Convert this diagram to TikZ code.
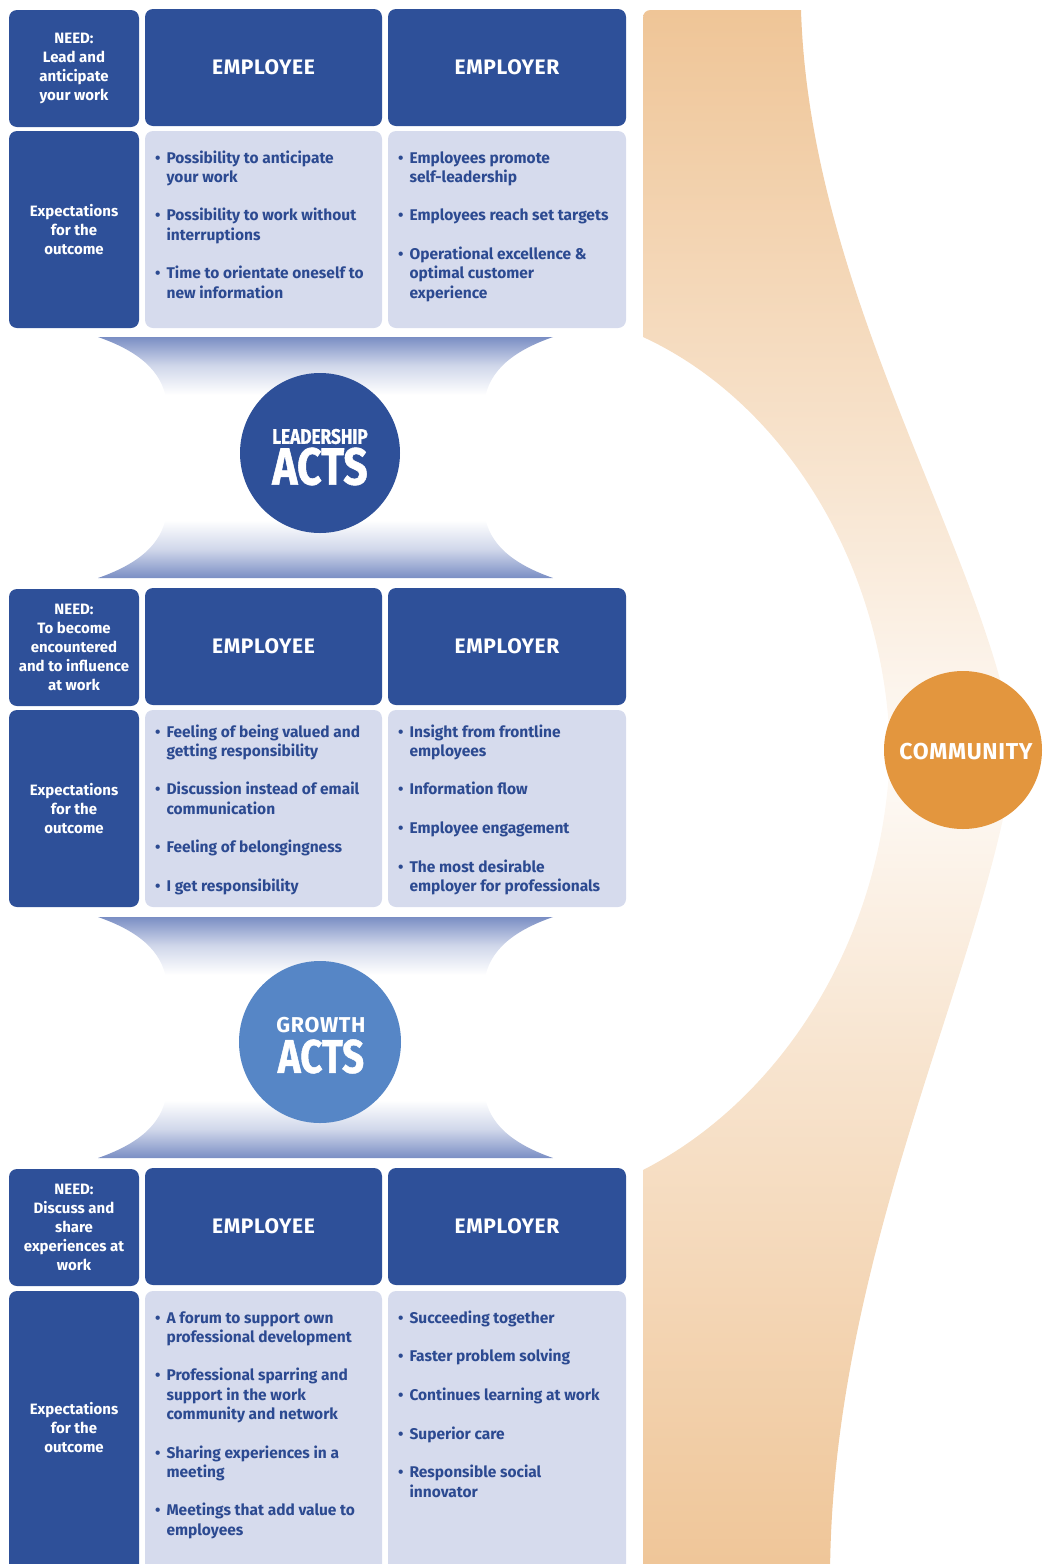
\documentclass[tikz,border=0pt]{standalone}
\usepackage{fontspec}
\setmainfont{Fira Sans}
\newfontfamily\narrowfont{Fira Sans}[FakeStretch=0.82,FakeBold=1]
\newfontfamily\spacedfont{Fira Sans}[LetterSpace=3]
\usetikzlibrary{shapes.geometric}

\definecolor{dblue}{RGB}{46,80,153}
\definecolor{lbox}{RGB}{214,219,237}
\definecolor{tblue}{RGB}{44,74,145}
\definecolor{gblue}{RGB}{86,134,198}
\definecolor{hgblue}{RGB}{122,142,196}
\colorlet{hgsoft}{hgblue!35!white}
\definecolor{ocircle}{RGB}{227,150,62}
\definecolor{oband}{RGB}{239,197,151}
\colorlet{obandmid}{oband!45!white}
\colorlet{obandpale}{oband!8!white}

% fade from blue at both ends to white in the middle
\pgfdeclareverticalshading{hglass}{100bp}{color(0bp)=(hgblue); color(25bp)=(hgblue);
  color(31bp)=(hgsoft); color(37bp)=(white); color(63bp)=(white);
  color(69bp)=(hgsoft); color(75bp)=(hgblue); color(100bp)=(hgblue)}
% orange band: strong at top and bottom, nearly white around the community circle
\pgfdeclareverticalshading{oshade}{100bp}{color(0bp)=(oband); color(25bp)=(oband);
  color(42bp)=(obandmid); color(51bp)=(obandpale); color(60bp)=(obandmid);
  color(75bp)=(oband); color(100bp)=(oband)}

\tikzset{
  box/.style={rectangle, rounded corners=8pt, inner sep=0pt, draw=none},
  headbox/.style={box, fill=dblue, text=white, font=\bfseries\fontsize{15}{19.2}\selectfont, align=center},
  colhead/.style={box, fill=dblue, text=white, font=\spacedfont\bfseries\fontsize{21}{24}\selectfont},
  listbox/.style={box, fill=lbox},
  listtext/.style={anchor=base west, inner sep=0pt, text=tblue, font=\bfseries\fontsize{15.5}{19.2}\selectfont},
}
\newcommand{\gap}{\\[19.5pt]}

\begin{document}
\begin{tikzpicture}[x=1pt,y=-1pt]
\useasboundingbox (0,0) rectangle (1045,1564);
\clip (0,0) rectangle (1045,1564);

% orange community band on the right
\shade[shading=oshade]
  (643,337) -- (643,18) .. controls (643,13) and (646,10) .. (651,10) -- (801,10)
  .. controls (810,300) and (990,560) .. (1015,750)
  .. controls (990,960) and (830,1250) .. (830,1580) -- (643,1580) -- (643,1170)
  .. controls (780,1100) and (885,940) .. (890,750)
  .. controls (885,560) and (780,400) .. cycle;

% hourglass connectors between the three rows
\foreach \o in {0,580}{
  \shade[shading=hglass]
    (98,{337+\o}) -- (553,{337+\o})
    .. controls (510,{352+\o}) and (490,{372+\o}) .. (485,{398+\o}) -- (485,{517+\o})
    .. controls (490,{543+\o}) and (510,{563+\o}) .. (553,{578+\o}) -- (98,{578+\o})
    .. controls (141,{563+\o}) and (161,{543+\o}) .. (166,{517+\o}) -- (166,{398+\o})
    .. controls (161,{372+\o}) and (141,{352+\o}) .. cycle;
}

% ---------- row 1 ----------
\node[headbox, minimum width=130pt, minimum height=117pt] (need1) at (74,68.5)
  {NEED:\\Lead and\\anticipate\\your work};
\node[colhead, minimum width=237pt, minimum height=117pt] (emp1) at (263.5,67.5) {EMPLOYEE};
\node[colhead, minimum width=238pt, minimum height=117pt] (emr1) at (507,67.5) {EMPLOYER};
\node[headbox, minimum width=130pt, minimum height=197pt] (exp1) at (74,229.5)
  {Expectations\\for the\\outcome};
\node[listbox, minimum width=237pt, minimum height=197pt] (empl1) at (263.5,229.5) {};
\node[listbox, minimum width=238pt, minimum height=197pt] (emrl1) at (507,229.5) {};
\node[listtext] (empt1) at (155,163) {\begin{tabular}[t]{@{}l@{\hspace{6pt}}l@{}}
  • & Possibility to anticipate\\ & your work\gap
  • & Possibility to work without\\ & interruptions\gap
  • & Time to orientate oneself to\\ & new information\end{tabular}};
\node[listtext] (emrt1) at (398,163) {\begin{tabular}[t]{@{}l@{\hspace{6pt}}l@{}}
  • & Employees promote\\ & self-leadership\gap
  • & Employees reach set targets\gap
  • & Operational excellence \&\\ & optimal customer\\ & experience\end{tabular}};

% leadership acts
\node[circle, fill=dblue, minimum size=160pt, inner sep=0pt] (lead) at (320,453) {};
\node[text=white, inner sep=0pt, font=\narrowfont\bfseries\fontsize{21}{21}\selectfont] (leadA) at (320,436.5) {LEADERSHIP};
\node[text=white, inner sep=0pt, font=\narrowfont\bfseries\fontsize{52}{52}\selectfont] (leadB) at (320,466.5) {ACTS};

% ---------- row 2 ----------
\node[headbox, minimum width=130pt, minimum height=117pt] (need2) at (74,647.5)
  {NEED:\\To become\\encountered\\and to influence\\at work};
\node[colhead, minimum width=237pt, minimum height=117pt] (emp2) at (263.5,646.5) {EMPLOYEE};
\node[colhead, minimum width=238pt, minimum height=117pt] (emr2) at (507,646.5) {EMPLOYER};
\node[headbox, minimum width=130pt, minimum height=197pt] (exp2) at (74,808.5)
  {Expectations\\for the\\outcome};
\node[listbox, minimum width=237pt, minimum height=197pt] (empl2) at (263.5,808.5) {};
\node[listbox, minimum width=238pt, minimum height=197pt] (emrl2) at (507,808.5) {};
\node[listtext] (empt2) at (155,737) {\begin{tabular}[t]{@{}l@{\hspace{6pt}}l@{}}
  • & Feeling of being valued and\\ & getting responsibility\gap
  • & Discussion instead of email\\ & communication\gap
  • & Feeling of belongingness\gap
  • & I get responsibility\end{tabular}};
\node[listtext] (emrt2) at (398,737) {\begin{tabular}[t]{@{}l@{\hspace{6pt}}l@{}}
  • & Insight from frontline\\ & employees\gap
  • & Information flow\gap
  • & Employee engagement\gap
  • & The most desirable\\ & employer for professionals\end{tabular}};

% growth acts
\node[circle, fill=gblue, minimum size=162pt, inner sep=0pt] (grow) at (320,1042) {};
\node[text=white, inner sep=0pt, font=\spacedfont\bfseries\fontsize{21.5}{21.5}\selectfont] (growA) at (321,1025.5) {GROWTH};
\node[text=white, inner sep=0pt, font=\narrowfont\bfseries\fontsize{47}{47}\selectfont] (growB) at (321,1056.5) {ACTS};

% ---------- row 3 ----------
\node[headbox, minimum width=130pt, minimum height=117pt] (need3) at (74,1227.5)
  {NEED:\\Discuss and\\share\\experiences at\\work};
\node[colhead, minimum width=237pt, minimum height=117pt] (emp3) at (263.5,1226.5) {EMPLOYEE};
\node[colhead, minimum width=238pt, minimum height=117pt] (emr3) at (507,1226.5) {EMPLOYER};
\node[box, fill=dblue, minimum width=130pt, minimum height=290pt] (exp3) at (74,1436) {};
\node[text=white, align=center, inner sep=0pt, font=\bfseries\fontsize{15}{19.2}\selectfont] (exp3t) at (74,1427.5)
  {Expectations\\for the\\outcome};
\node[listbox, minimum width=237pt, minimum height=290pt] (empl3) at (263.5,1436) {};
\node[listbox, minimum width=238pt, minimum height=290pt] (emrl3) at (507,1436) {};
\node[listtext] (empt3) at (155,1323) {\begin{tabular}[t]{@{}l@{\hspace{6pt}}l@{}}
  • & A forum to support own\\ & professional development\gap
  • & Professional sparring and\\ & support in the work\\ & community and network\gap
  • & Sharing experiences in a\\ & meeting\gap
  • & Meetings that add value to\\ & employees\end{tabular}};
\node[listtext] (emrt3) at (398,1323) {\begin{tabular}[t]{@{}l@{\hspace{6pt}}l@{}}
  • & Succeeding together\gap
  • & Faster problem solving\gap
  • & Continues learning at work\gap
  • & Superior care\gap
  • & Responsible social\\ & innovator\end{tabular}};

% community
\node[circle, fill=ocircle, minimum size=158pt, inner sep=0pt] (comm) at (963,750) {};
\node[text=white, inner sep=0pt, font=\spacedfont\bfseries\fontsize{23}{23}\selectfont] (commt) at (966,752) {COMMUNITY};

\end{tikzpicture}
\end{document}
